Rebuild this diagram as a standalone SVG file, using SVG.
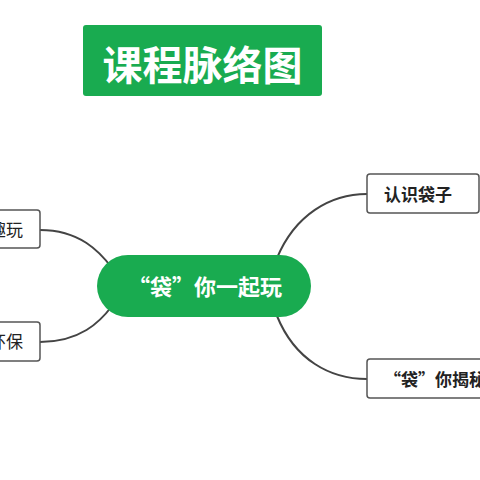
<svg xmlns="http://www.w3.org/2000/svg" width="480" height="480" viewBox="0 0 480 480">
<style>
.g{fill:#19ab50}
.box{fill:#fff;stroke:#555;stroke-width:1.5}
.t{font-family:"Noto Sans CJK SC","Noto Sans",sans-serif;fill:#222}
.w{font-family:"Noto Sans CJK SC","Noto Sans",sans-serif;fill:#fff;font-weight:bold}
.c{fill:none;stroke:#444;stroke-width:2}
</style>
<rect width="480" height="480" fill="#fff"/>
<g id="connectors">
<path class="c" d="M40,230 C80,230 100,252 112,268"/>
<path class="c" d="M40,342 C80,342 100,322 112,306"/>
<path class="c" d="M277,258 C295,215 330,194 367,194"/>
<path class="c" d="M277,316 C295,360 330,379 367,379"/>
</g>
<g id="title">
<rect class="g" x="83" y="25" width="239" height="71" rx="3"/>
<text class="w" x="202.5" y="80" font-size="40" text-anchor="middle">课程脉络图</text>
</g>
<g id="center">
<rect class="g" x="97" y="255" width="214" height="62" rx="31"/>
<text class="w" x="205" y="295" font-size="22" text-anchor="middle">“袋”你一起玩</text>
</g>
<g id="left1">
<rect class="box" x="-60" y="210" width="100" height="38" rx="3"/>
<text class="t" x="23" y="236" font-size="17" text-anchor="end">趣玩</text>
</g>
<g id="left2">
<rect class="box" x="-60" y="322" width="100" height="39" rx="3"/>
<text class="t" x="23" y="348" font-size="17" text-anchor="end">环保</text>
</g>
<g id="right1">
<rect class="box" x="367" y="174" width="112" height="39" rx="3"/>
<text class="t" x="384" y="201" font-size="17" font-weight="bold">认识袋子</text>
</g>
<g id="right2">
<rect class="box" x="367" y="359" width="130" height="39" rx="3"/>
<text class="t" x="384" y="386" font-size="17" font-weight="bold">“袋”你揭秘</text>
</g>
</svg>
